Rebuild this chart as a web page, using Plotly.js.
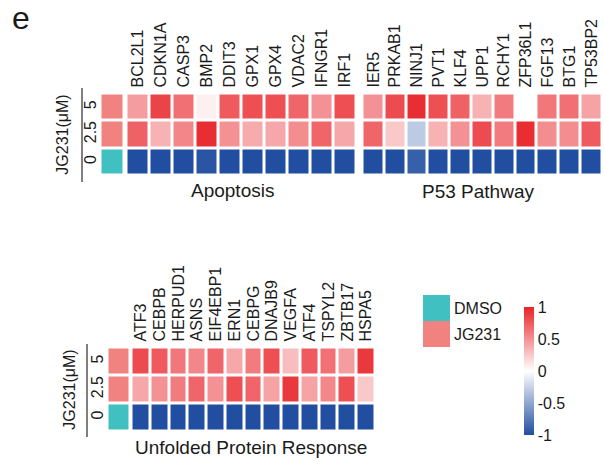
<!DOCTYPE html>
<html><head><meta charset="utf-8">
<script src="https://cdn.plot.ly/plotly-3.0.1.min.js"></script>
<style>html,body{margin:0;padding:0;background:#fff}</style>
</head><body><div id="c" style="width:604px;height:465px"></div>
<script>
// rows, bottom to top
var doses = ["0", "2.5", "5"];
var groupLevels = [0, 1, 1]; // 0 = DMSO, 1 = JG231 for each dose row
var legendLabels = ["JG231", "DMSO"];
var legendLevels = [1, 0];

var apoGenes = ["BCL2L1","CDKN1A","CASP3","BMP2","DDIT3","GPX1","GPX4","VDAC2","IFNGR1","IRF1"];
var apo0   = [-1,-1,-1,-0.96,-1,-1,-1,-1,-1,-1];
var apo25  = [0.72,0.35,0.55,0.95,0.5,0.38,0.4,0.52,0.7,0.4];
var apo5   = [0.45,0.85,0.65,0.07,0.75,0.8,0.8,0.7,0.5,0.8];

var p53Genes = ["IER5","PRKAB1","NINJ1","PVT1","KLF4","UPP1","RCHY1","ZFP36L1","FGF13","BTG1","TP53BP2"];
var p530  = [-1,-1,-0.9,-1,-1,-1,-1,-1,-1,-1,-1];
var p5325 = [0.7,0.25,-0.3,0.35,0.5,0.82,0.6,0.95,0.52,0.52,0.75];
var p535  = [0.5,0.82,0.95,0.8,0.72,0.35,0.6,0.0,0.62,0.65,0.42];

var upGenes = ["ATF3","CEBPB","HERPUD1","ASNS","EIF4EBP1","ERN1","CEBPG","DNAJB9","VEGFA","ATF4","TSPYL2","ZBTB17","HSPA5"];
var up0  = [-1,-1,-1,-1,-1,-1,-1,-1,-1,-1,-1,-1,-1];
var up25 = [0.4,0.5,0.6,0.7,0.5,0.8,0.7,0.42,0.9,0.42,0.55,0.8,0.25];
var up5  = [0.82,0.75,0.62,0.55,0.7,0.4,0.6,0.8,0.3,0.75,0.65,0.45,0.9];

var cbTicks = [-1,-0.5,0,0.5,1];
var cbText = ["-1","-0.5","0","0.5","1"];

var TXT = "#1a1a1a";
var FONT = "Liberation Sans, Arial, sans-serif";
var scale = [[0,"rgb(33,78,160)"],[0.5,"rgb(255,255,255)"],[1,"rgb(232,35,40)"]];
var annScale = [[0,"rgb(64,192,192)"],[1,"rgb(240,130,128)"]];
var W = 604, H = 465;
function px(a){return a/W;}
function py(a){return 1-a/H;}

function hm(genes, rows, xa, ya, showscale){
  var t = {type:"heatmap", x:genes, y:doses, z:rows, xaxis:xa, yaxis:ya,
    colorscale:scale, zmin:-1, zmax:1, xgap:3, ygap:3, showscale:!!showscale, hoverinfo:"x+y+z"};
  if (showscale){
    t.colorbar = {x:px(524), xanchor:"left", xpad:0, ypad:0, y:py(371), yanchor:"middle",
      len:128, lenmode:"pixels", thickness:10, thicknessmode:"pixels", outlinewidth:0,
      tickmode:"array", tickvals:cbTicks, ticktext:cbText, ticks:"", ticklabelpad:7,
      tickfont:{size:16, color:TXT, family:FONT}};
  }
  return t;
}
function ann(xa, ya){
  return {type:"heatmap", x:["group"], y:doses, z:groupLevels.map(function(v){return [v];}),
    xaxis:xa, yaxis:ya, colorscale:annScale, zmin:0, zmax:1, xgap:3, ygap:3, showscale:false, hoverinfo:"y"};
}

var data = [
  ann("x","y"),
  hm(apoGenes, [apo0, apo25, apo5], "x2", "y", true),
  hm(p53Genes, [p530, p5325, p535], "x3", "y", false),
  ann("x4","y2"),
  hm(upGenes, [up0, up25, up5], "x5", "y2", false),
  {type:"heatmap", x:["lg"], y:legendLabels, z:legendLevels.map(function(v){return [v];}),
   xaxis:"x6", yaxis:"y3", colorscale:annScale, zmin:0, zmax:1, showscale:false, hoverinfo:"y"}
];

function xax(d0,d1,anchor,genes){
  var a = {domain:[px(d0),px(d1)], anchor:anchor, side:"top", type:"category",
    showgrid:false, zeroline:false, showline:false, ticks:"", showticklabels:!!genes,
    tickangle:-90, tickfont:{size:16, color:TXT, family:FONT}, ticklabelstandoff:5, fixedrange:true};
  if (genes){ a.tickmode = "array"; a.tickvals = genes; a.ticktext = genes; }
  return a;
}
function yax(d0,d1,anchor){
  return {domain:[py(d1),py(d0)], anchor:anchor, type:"category", showgrid:false, zeroline:false,
    showline:false, ticks:"", tickangle:-90, tickfont:{size:16, color:TXT, family:FONT},
    tickmode:"array", tickvals:doses, ticktext:doses,
    title:{text:"JG231(μM)", font:{size:16, color:TXT, family:FONT}, standoff:9}, fixedrange:true};
}
function lab(text, x, y, size){
  return {text:text, xref:"paper", yref:"paper", x:px(x), y:py(y), xanchor:"center", yanchor:"middle",
    showarrow:false, font:{size:size, color:TXT, family:FONT}};
}

var layout = {
  width:W, height:H, margin:{l:0,r:0,t:0,b:0}, paper_bgcolor:"#fff", plot_bgcolor:"#fff",
  font:{family:FONT, color:TXT}, showlegend:false,
  xaxis: xax(100.5,124.5,"y",null),
  xaxis2: xax(126.5,356.5,"y",apoGenes),
  xaxis3: xax(362.5,602.3,"y",p53Genes),
  xaxis4: xax(107.5,130.5,"y2",null),
  xaxis5: xax(131.5,375.5,"y2",upGenes),
  xaxis6: {domain:[px(423),px(450)], anchor:"y3", showticklabels:false, ticks:"", showgrid:false, zeroline:false, fixedrange:true},
  yaxis: yax(93.5,175.5,"x"),
  yaxis2: yax(347.5,431.5,"x4"),
  yaxis3: {domain:[py(347),py(295)], anchor:"x6", side:"right", type:"category", showgrid:false, zeroline:false,
    ticks:"", tickfont:{size:16, color:TXT, family:FONT}, ticklabelstandoff:3, fixedrange:true},
  shapes:[
    {type:"line", xref:"paper", yref:"paper", x0:px(82), x1:px(82), y0:py(88), y1:py(182), line:{color:"#555", width:1.5}},
    {type:"line", xref:"paper", yref:"paper", x0:px(87), x1:px(87), y0:py(344), y1:py(437), line:{color:"#555", width:1.5}}
  ],
  annotations:[
    lab("e", 21, 18, 32),
    lab("Apoptosis", 232, 190, 19),
    lab("P53 Pathway", 478, 192, 19),
    lab("Unfolded Protein Response", 251, 447, 19)
  ]
};
Plotly.newPlot("c", data, layout, {displayModeBar:false, staticPlot:true});
</script></body></html>
